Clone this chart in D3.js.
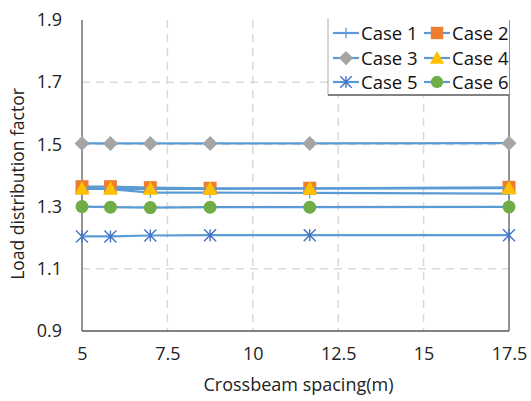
<!DOCTYPE html>
<html>
<head>
<meta charset="utf-8">
<script src="https://cdn.jsdelivr.net/npm/d3@7"></script>
<style>
  html, body { margin: 0; padding: 0; background: #fff; }
  svg { display: block; font-family: "Open Sans", "Liberation Sans", sans-serif; }
</style>
</head>
<body>
<svg id="chart" width="531" height="401"></svg>
<script>
// Crossbeam spacing (m) and load distribution factor for each case
const spacing = [5, 5.833, 7, 8.75, 11.667, 17.5];
const case1 = [1.362, 1.356, 1.345, 1.345, 1.344, 1.342];
const case2 = [1.364, 1.364, 1.361, 1.359, 1.359, 1.362];
const case3 = [1.503, 1.503, 1.503, 1.503, 1.503, 1.504];
const case4 = [1.357, 1.357, 1.357, 1.357, 1.358, 1.359];
const case5 = [1.204, 1.204, 1.207, 1.208, 1.208, 1.208];
const case6 = [1.300, 1.298, 1.297, 1.298, 1.298, 1.299];
const seriesNames = ["Case 1", "Case 2", "Case 3", "Case 4", "Case 5", "Case 6"];
const xTicks = [5, 7.5, 10, 12.5, 15, 17.5];
const yTicks = [0.9, 1.1, 1.3, 1.5, 1.7, 1.9];

const series = [
  { name: seriesNames[0], values: case1, marker: "plus",     fill: "none",    stroke: "#5B9BD5" },
  { name: seriesNames[1], values: case2, marker: "square",   fill: "#ED7D31", stroke: "none" },
  { name: seriesNames[2], values: case3, marker: "diamond",  fill: "#A5A5A5", stroke: "none" },
  { name: seriesNames[3], values: case4, marker: "triangle", fill: "#FFC000", stroke: "none" },
  { name: seriesNames[4], values: case5, marker: "star",     fill: "none",    stroke: "#4472C4" },
  { name: seriesNames[5], values: case6, marker: "circle",   fill: "#70AD47", stroke: "none" }
];

const lineColor = "#5B9BD5";
const svg = d3.select("#chart");
const plot = { left: 82, right: 509, top: 20, bottom: 331 };

const x = d3.scaleLinear().domain([5, 17.5]).range([plot.left, plot.right]);
const y = d3.scaleLinear().domain([0.9, 1.9]).range([plot.bottom, plot.top]);

// dashed gridlines
svg.append("g").selectAll("line.vg")
  .data(xTicks.filter(t => t > 5 && t < 17.5))
  .join("line")
  .attr("x1", d => x(d)).attr("x2", d => x(d))
  .attr("y1", plot.top).attr("y2", plot.bottom)
  .attr("stroke", "#d9d9d9").attr("stroke-width", 1.5)
  .attr("stroke-dasharray", "8,6");

svg.append("g").selectAll("line.hg")
  .data(yTicks.filter(t => t > 0.9 && t < 1.9))
  .join("line")
  .attr("x1", plot.left).attr("x2", plot.right)
  .attr("y1", d => y(d)).attr("y2", d => y(d))
  .attr("stroke", "#d9d9d9").attr("stroke-width", 1.5)
  .attr("stroke-dasharray", "8,6");

// plot frame: left, bottom and right edges
const frame = svg.append("g").attr("stroke", "#595959").attr("stroke-width", 1.3);
frame.append("line").attr("x1", plot.left).attr("x2", plot.left).attr("y1", plot.top).attr("y2", plot.bottom);
frame.append("line").attr("x1", plot.left).attr("x2", plot.right).attr("y1", plot.bottom).attr("y2", plot.bottom);
frame.append("line").attr("x1", plot.right).attr("x2", plot.right).attr("y1", plot.top).attr("y2", plot.bottom);

// axes (labels only)
const xAxis = svg.append("g")
  .attr("transform", `translate(0,${plot.bottom + 16})`)
  .call(d3.axisBottom(x).tickValues(xTicks).tickSize(0).tickPadding(0).tickFormat(d3.format("")));
xAxis.select(".domain").remove();
xAxis.selectAll("text").attr("font-size", 18).attr("fill", "#222").attr("dy", "0.71em")
  .attr("font-family", "\"Open Sans\", sans-serif");

const yAxis = svg.append("g")
  .attr("transform", `translate(${plot.left - 20},0)`)
  .call(d3.axisLeft(y).tickValues(yTicks).tickSize(0).tickPadding(0).tickFormat(d3.format(".1f")));
yAxis.select(".domain").remove();
yAxis.selectAll("text").attr("font-size", 18).attr("fill", "#222")
  .attr("font-family", "\"Open Sans\", sans-serif");

// axis titles
svg.append("text")
  .attr("x", (plot.left + plot.right) / 2 + 3).attr("y", 391)
  .attr("text-anchor", "middle").attr("font-size", 18).attr("fill", "#222")
  .text("Crossbeam spacing(m)");

svg.append("text")
  .attr("transform", `translate(24,184) rotate(-90)`)
  .attr("text-anchor", "middle").attr("font-size", 17.5).attr("fill", "#222")
  .text("Load distribution factor");

// marker drawing
function drawMarker(g, s, cx, cy, scale) {
  const k = scale || 1;
  if (s.marker === "square") {
    g.append("rect").attr("x", cx - 6.5 * k).attr("y", cy - 6.5 * k)
      .attr("width", 13 * k).attr("height", 13 * k).attr("fill", s.fill);
  } else if (s.marker === "diamond") {
    const r = 7.5 * k;
    g.append("path").attr("d", `M${cx},${cy - r}L${cx + r},${cy}L${cx},${cy + r}L${cx - r},${cy}Z`).attr("fill", s.fill);
  } else if (s.marker === "triangle") {
    const h = 7.5 * k;
    g.append("path").attr("d", `M${cx},${cy - h}L${cx + h},${cy + h * 0.8}L${cx - h},${cy + h * 0.8}Z`).attr("fill", s.fill);
  } else if (s.marker === "circle") {
    g.append("circle").attr("cx", cx).attr("cy", cy).attr("r", 6.5 * k).attr("fill", s.fill);
  } else if (s.marker === "plus") {
    const r = 5.5 * k;
    g.append("path").attr("d", `M${cx - r},${cy}H${cx + r}M${cx},${cy - r}V${cy + r}`)
      .attr("stroke", s.stroke).attr("stroke-width", 1.3).attr("fill", "none");
  } else if (s.marker === "star") {
    const r = 6 * k;
    g.append("path").attr("d", `M${cx - r},${cy - r}L${cx + r},${cy + r}M${cx - r},${cy + r}L${cx + r},${cy - r}M${cx},${cy - r}V${cy + r}`)
      .attr("stroke", s.stroke).attr("stroke-width", 1.4).attr("fill", "none");
  }
}

// series lines and markers
const line = d3.line().x(d => x(d[0])).y(d => y(d[1]));
series.forEach(s => {
  const pts = spacing.map((v, i) => [v, s.values[i]]);
  const g = svg.append("g");
  g.append("path").datum(pts).attr("d", line)
    .attr("fill", "none").attr("stroke", lineColor).attr("stroke-width", 2.2);
  pts.forEach(p => drawMarker(g, s, x(p[0]), y(p[1]), 1));
});

// legend
const leg = { left: 328, top: 18, right: 509, bottom: 95 };
svg.append("rect")
  .attr("x", leg.left).attr("y", leg.top)
  .attr("width", leg.right - leg.left).attr("height", leg.bottom - leg.top)
  .attr("fill", "#fff");
svg.append("line").attr("x1", leg.left).attr("x2", leg.left).attr("y1", leg.top).attr("y2", leg.bottom)
  .attr("stroke", "#bfbfbf").attr("stroke-width", 1.3);
svg.append("line").attr("x1", leg.left).attr("x2", leg.right).attr("y1", leg.bottom).attr("y2", leg.bottom)
  .attr("stroke", "#595959").attr("stroke-width", 1.3);

const colX = [333, 424];
const rowY = [33, 58, 82];
series.forEach((s, i) => {
  const cx = colX[i % 2];
  const cy = rowY[Math.floor(i / 2)];
  const g = svg.append("g");
  g.append("line").attr("x1", cx).attr("x2", cx + 26).attr("y1", cy).attr("y2", cy)
    .attr("stroke", lineColor).attr("stroke-width", 2.2);
  drawMarker(g, s, cx + 13, cy, 0.95);
  g.append("text").attr("x", cx + 28).attr("y", cy).attr("dy", "0.36em")
    .attr("font-size", 18.5).attr("fill", "#111").text(s.name);
});
</script>
</body>
</html>
